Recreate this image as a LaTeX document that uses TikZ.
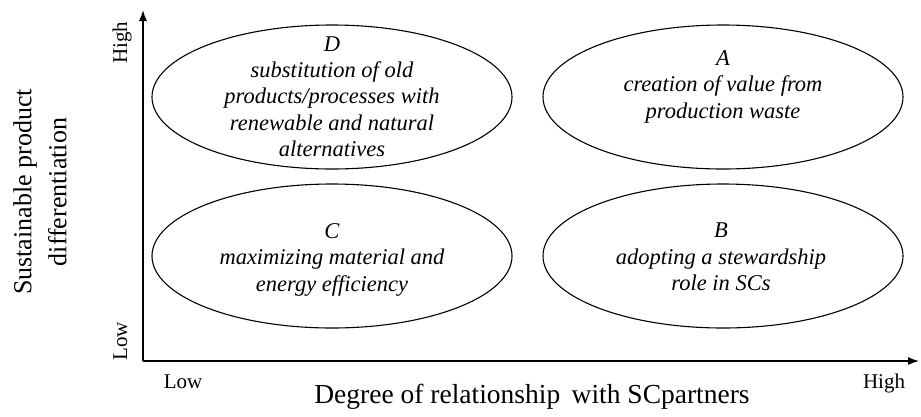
\documentclass[tikz,border=0pt]{standalone}
\usepackage{fontspec}
\setmainfont{Liberation Serif}
\usetikzlibrary{arrows.meta,shapes.geometric}
\begin{document}
\begin{tikzpicture}[x=1pt,y=-1pt,
  ell/.style={draw,ellipse,line width=1.1pt,minimum width=360pt,minimum height=144pt,inner sep=0pt},
  etxt/.style={align=center,font=\fontsize{22.5}{26.3}\selectfont\itshape,inner sep=0pt},
  ticklab/.style={font=\fontsize{21}{25}\selectfont,inner sep=0pt},
  axlab/.style={font=\fontsize{26}{35}\selectfont,inner sep=0pt,align=center},
  axisline/.style={line width=1.3pt,-{Latex[length=11pt,width=8pt]}}]
\useasboundingbox (0,0) rectangle (921,416);
% axes
\coordinate (O) at (143,361);
\coordinate (Ytop) at (143,10);
\coordinate (Xend) at (919,361);
\draw[axisline] (O) -- (Ytop);
\draw[axisline] (O) -- (Xend);
% ellipses
\node[ell] (D) at (332,97) {};
\node[ell] (A) at (723,97) {};
\node[ell] (C) at (332,256) {};
\node[ell] (B) at (723,256) {};
% ellipse texts
\node[etxt] (Dt) at (332,96.5) {D\\substitution of old\\products/processes  with\\renewable and natural\\alternatives};
\node[etxt] (At) at (723,86.7) {A\\creation of value from\\production waste};
\node[etxt] (Ct) at (332,259.7) {C\\maximizing material and\\energy efficiency};
\node[etxt] (Bt) at (721,256.8) {B\\adopting a stewardship\\role in SCs};
% tick labels
\node[ticklab,rotate=90,anchor=base] (yhigh) at (127,42.5) {High};
\node[ticklab,rotate=90,anchor=base] (ylow) at (127,341.5) {Low};
\node[ticklab,anchor=base] (xlow) at (183,388) {Low};
\node[ticklab,anchor=base] (xhigh) at (884,388) {High};
% axis labels
\node[axlab,anchor=base,font=\fontsize{27.5}{35}\selectfont] (xlab) at (532,403) {Degree of relationship\, with SCpartners};
\node[axlab,rotate=90] (ylab) at (40,192) {Sustainable product\\differentiation};
\end{tikzpicture}
\end{document}
